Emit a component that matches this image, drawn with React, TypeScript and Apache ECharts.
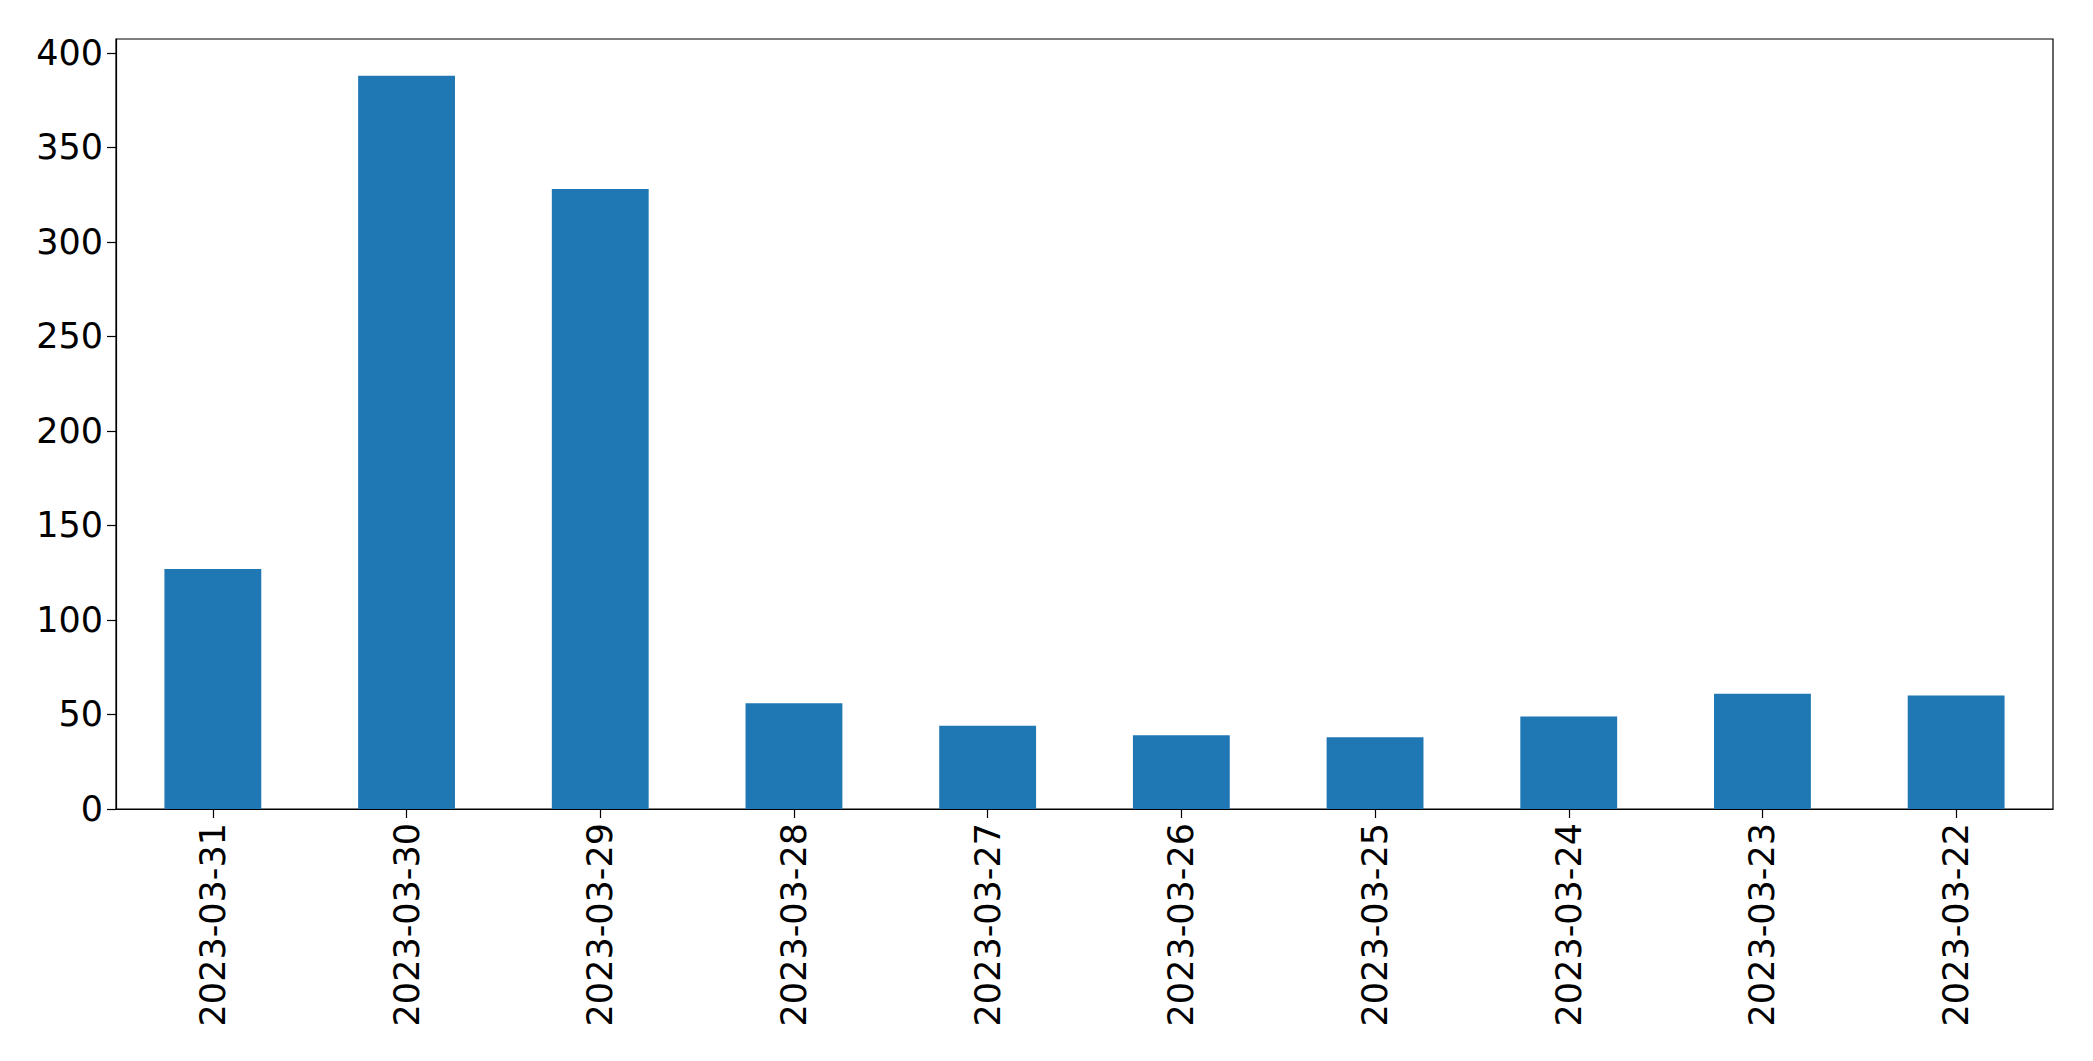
import React, { useEffect, useRef } from "react";
import * as echarts from "echarts";

const categories = [
  "2023-03-31",
  "2023-03-30",
  "2023-03-29",
  "2023-03-28",
  "2023-03-27",
  "2023-03-26",
  "2023-03-25",
  "2023-03-24",
  "2023-03-23",
  "2023-03-22",
];
const values = [127, 388, 328, 56, 44, 39, 38, 49, 61, 60];
const yTicks = [0, 50, 100, 150, 200, 250, 300, 350, 400];

export default function App() {
  const ref = useRef<HTMLDivElement>(null);
  useEffect(() => {
    if (!ref.current) return;
    const chart = echarts.init(ref.current, null, { renderer: "svg" });
    const yMax = Math.max(...values) * 1.05;
    chart.setOption({
      animation: false,
      backgroundColor: "#ffffff",
      textStyle: { fontFamily: "DejaVu Sans" },
      grid: {
        left: 116,
        right: 40,
        top: 39,
        bottom: 252,
        show: true,
        borderColor: "#000000",
        borderWidth: 1.2,
        backgroundColor: "transparent",
      },
      xAxis: {
        type: "category",
        data: categories,
        boundaryGap: true,
        axisLine: { show: true, lineStyle: { color: "#000000", width: 1.2 } },
        axisTick: {
          show: true,
          alignWithLabel: true,
          length: 9,
          lineStyle: { color: "#000000", width: 1.2 },
        },
        axisLabel: {
          rotate: 90,
          margin: 14,
          color: "#000000",
          fontSize: 35,
          fontFamily: "DejaVu Sans",
        },
        splitLine: { show: false },
      },
      yAxis: {
        type: "value",
        min: 0,
        max: yMax,
        axisLine: { show: true, lineStyle: { color: "#000000", width: 1.2 } },
        axisTick: {
          show: true,
          length: 9,
          customValues: yTicks,
          lineStyle: { color: "#000000", width: 1.2 },
        },
        axisLabel: {
          customValues: yTicks,
          margin: 13,
          color: "#000000",
          fontSize: 35,
          fontFamily: "DejaVu Sans",
        },
        splitLine: { show: false },
      },
      series: [
        {
          type: "bar",
          data: values,
          barWidth: "50%",
          itemStyle: { color: "#1f77b4" },
        },
      ],
    });
    return () => chart.dispose();
  }, []);
  return (
    <div
      ref={ref}
      style={{ position: "fixed", left: 0, top: 0, width: 2093, height: 1061 }}
    />
  );
}
